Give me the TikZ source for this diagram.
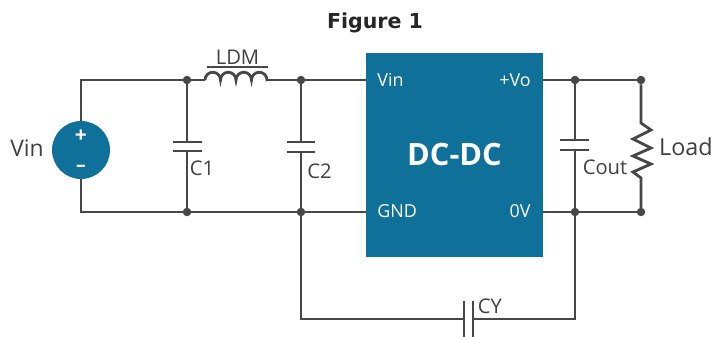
\documentclass[tikz,border=0pt]{standalone}
\usepackage{fontspec}
\setmainfont{Open Sans}
\newfontfamily\titlefont{DejaVu Sans}
\usetikzlibrary{positioning}
\definecolor{mteal}{rgb}{0.06, 0.44, 0.60}
\definecolor{mwire}{rgb}{0.28, 0.28, 0.28}
\definecolor{mtext}{rgb}{0.25, 0.25, 0.25}
\tikzset{
  wire/.style={mwire, line width=1.6pt},
  plate/.style={mwire, line width=1.5pt},
  joint/.style={circle, fill=mwire, inner sep=0pt, outer sep=0pt, minimum size=0.17cm},
  partlabel/.style={text=mtext, inner sep=0pt, font=\fontsize{11.5}{13}\selectfont},
  pinlabel/.style={text=white, inner sep=0pt, font=\fontsize{10.2}{12}\selectfont},
}

\begin{document}
\begin{tikzpicture}
    \useasboundingbox (0, 0) rectangle (14.26, 6.72);

    \node [font=\titlefont\bfseries\fontsize{11.7}{13}\selectfont, text=black!85, inner sep=0pt] (title) at (7.5, 6.26) {Figure 1};

    % converter and source
    \node [fill=mteal, minimum width=3.54cm, minimum height=4.08cm, inner sep=0pt] (dcdc) at (9.09, 3.62) {};
    \node [text=white, inner sep=0pt, font=\bfseries\fontsize{17.5}{19}\selectfont] (dcname) at (9.09, 3.62) {DC-DC};
    \node [fill=mteal, circle, minimum size=1.16cm, inner sep=0pt, outer sep=0pt] (source) at (1.62, 3.72) {};
    \node [text=white, inner sep=0pt, font=\bfseries\fontsize{12}{13}\selectfont] (splus) at (1.62, 4.0) {+};
    \node [text=white, inner sep=0pt, font=\bfseries\fontsize{11}{12}\selectfont] (sminus) at (1.62, 3.36) {--};

    % corners and joints
    \coordinate (tl) at (1.62, 5.12);
    \coordinate (bl) at (1.62, 2.48);
    \coordinate (lin) at (4.1, 5.12);
    \coordinate (lout) at (5.34, 5.12);
    \coordinate (yl) at (9.28, 0.34);
    \coordinate (yr) at (9.46, 0.34);
    \coordinate (ycorner l) at (6.02, 0.34);
    \coordinate (ycorner r) at (11.5, 0.34);
    \coordinate (pin vin) at (7.32, 5.12);
    \coordinate (pin gnd) at (7.32, 2.48);
    \coordinate (pin vo) at (10.86, 5.12);
    \coordinate (pin ov) at (10.86, 2.48);
    \node [joint] (t1) at (3.74, 5.12) {};
    \node [joint] (t2) at (6.02, 5.12) {};
    \node [joint] (t3) at (11.5, 5.12) {};
    \node [joint] (t4) at (12.82, 5.12) {};
    \node [joint] (b1) at (3.74, 2.48) {};
    \node [joint] (b2) at (6.02, 2.48) {};
    \node [joint] (b3) at (11.5, 2.48) {};
    \node [joint] (b4) at (12.82, 2.48) {};

    % plates
    \coordinate (c1a) at (3.74, 3.88);
    \coordinate (c1b) at (3.74, 3.7);
    \coordinate (c2a) at (6.02, 3.88);
    \coordinate (c2b) at (6.02, 3.68);
    \coordinate (c3a) at (11.5, 3.92);
    \coordinate (c3b) at (11.5, 3.72);
    \draw [plate] (3.46, 3.88) -- (4.04, 3.88);
    \draw [plate] (3.46, 3.7) -- (4.04, 3.7);
    \draw [plate] (5.74, 3.88) -- (6.3, 3.88);
    \draw [plate] (5.74, 3.68) -- (6.3, 3.68);
    \draw [plate] (11.2, 3.92) -- (11.78, 3.92);
    \draw [plate] (11.2, 3.72) -- (11.78, 3.72);
    \draw [plate] (9.28, 0.7) -- (9.28, -0.1);
    \draw [plate] (9.46, 0.7) -- (9.46, -0.1);

    % wires
    \draw [wire] (source) -- (tl) -- (t1.center) -- (lin);
    \draw [wire] (lin) arc (180:0:0.155) arc (180:0:0.155) arc (180:0:0.155) arc (180:0:0.155) -- (lout);
    \draw [wire] (lout) -- (t2.center) -- (pin vin);
    \draw [wire] (pin vo) -- (t3.center) -- (t4.center);
    \draw [wire] (source) -- (bl) -- (b1.center) -- (b2.center) -- (pin gnd);
    \draw [wire] (pin ov) -- (b3.center) -- (b4.center);
    \draw [wire] (t1) -- (c1a);
    \draw [wire] (c1b) -- (b1);
    \draw [wire] (t2) -- (c2a);
    \draw [wire] (c2b) -- (b2);
    \draw [wire] (t3) -- (c3a);
    \draw [wire] (c3b) -- (b3);
    \draw [wire] (b2) -- (ycorner l) -- (yl);
    \draw [wire] (yr) -- (ycorner r) -- (b3);
    \draw [wire] (t4) -- (12.82, 4.26) -- (13.02, 4.12) -- (12.66, 3.94) -- (13.02, 3.76) -- (12.66, 3.6) -- (13.02, 3.44) -- (12.66, 3.28) -- (12.82, 3.16) -- (b4);

    % bar over the choke
    \draw [plate] (4.14, 5.38) -- (5.36, 5.38);

    % labels
    \node [partlabel, font=\fontsize{13}{15}\selectfont] (vin) at (0.54, 3.76) {Vin};
    \node [partlabel, font=\fontsize{13.3}{15}\selectfont] (load) at (13.72, 3.78) {Load};
    \node [partlabel] (ldm) at (4.75, 5.58) {LDM};
    \node [partlabel] (c1) at (4.04, 3.36) {C1};
    \node [partlabel] (c2) at (6.39, 3.3) {C2};
    \node [partlabel] (cout) at (12.1, 3.38) {Cout};
    \node [partlabel] (cy) at (9.8, 0.6) {CY};
    \node [pinlabel, anchor=west] (vinpin) at (7.54, 5.12) {Vin};
    \node [pinlabel, anchor=east] (vopin) at (10.62, 5.12) {+Vo};
    \node [pinlabel, anchor=west] (gndpin) at (7.54, 2.5) {GND};
    \node [pinlabel, anchor=east] (ovpin) at (10.62, 2.5) {0V};
  \end{tikzpicture}
\end{document}
